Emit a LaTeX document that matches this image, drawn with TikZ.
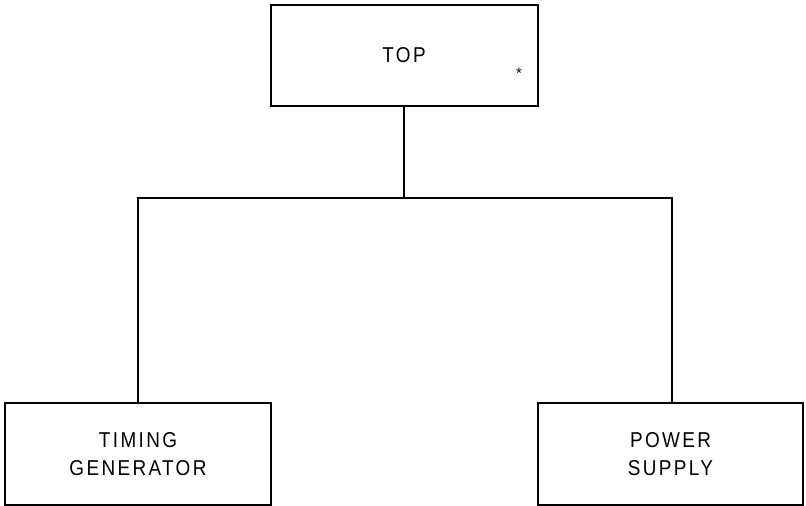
\documentclass[tikz,border=0pt]{standalone}
\usepackage{fontspec}
\setmainfont{Liberation Sans}
\begin{document}
\begin{tikzpicture}[x=1pt,y=-1pt,
  blk/.style={draw=black,line width=2pt,fill=white,inner sep=0pt,
    font=\fontsize{21.5}{28.5}\selectfont\addfontfeatures{FakeStretch=0.88,LetterSpace=11},
    align=center},
  wire/.style={draw=black,line width=2pt}]
\useasboundingbox (0,0) rectangle (806,506);
% unit blocks
\node[blk,minimum width=267pt,minimum height=101pt] (top) at (404,55.5) {TOP};
\node[blk,minimum width=266pt,minimum height=102pt] (tg) at (138,454) {TIMING\\GENERATOR};
\node[blk,minimum width=265pt,minimum height=102pt] (ps) at (670.5,454) {POWER\\SUPPLY};
\node[font=\fontsize{15}{18}\selectfont] (mark) at (519,73) {*};
% junction points of the tree
\coordinate (j) at (404,198);
\coordinate (jl) at (138,198);
\coordinate (jr) at (672,198);
\draw[wire] (top.south) -- (top.south |- j);
\draw[wire] (jl |- tg.north) -- (jl) -- (jr) -- (jr |- ps.north);
\end{tikzpicture}
\end{document}
